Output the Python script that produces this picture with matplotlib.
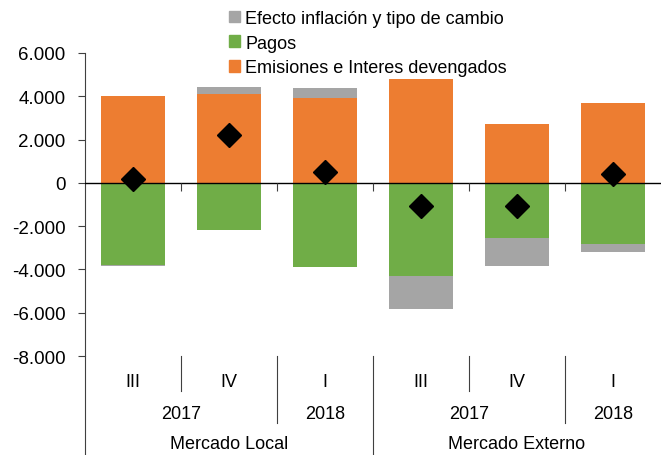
import matplotlib
matplotlib.use("Agg")
import matplotlib.pyplot as plt
import matplotlib.transforms as mtransforms
from matplotlib.ticker import FuncFormatter, MultipleLocator
from matplotlib.patches import Patch

plt.rcParams['font.family'] = ['Liberation Sans', 'DejaVu Sans']

# ---- data ----
quarters = ["III", "IV", "I", "III", "IV", "I"]
years = ["2017", "2018", "2017", "2018"]
year_spans = [2, 1, 2, 1]
markets = ["Mercado Local", "Mercado Externo"]
market_spans = [3, 3]
emisiones = [4000, 4100, 3900, 4800, 2740, 3690]
pagos = [-3780, -2170, -3890, -4290, -2540, -2830]
efecto = [-60, 330, 460, -1525, -1310, -370]
neto = [160, 2200, 520, -1050, -1090, 420]

series_names = ["Efecto inflación y tipo de cambio", "Pagos", "Emisiones e Interes devengados"]
c_gray, c_green, c_orange = "#A5A5A5", "#70AD47", "#ED7D31"

W, H = 665, 456
fig = plt.figure(figsize=(W / 100, H / 100), dpi=100)
ax_l, ax_r, ax_t, ax_b = 85, 661, 54, 357
ax = fig.add_axes([ax_l / W, (H - ax_b) / H, (ax_r - ax_l) / W, (ax_b - ax_t) / H])

n = len(quarters)
xs = [i + 0.5 for i in range(n)]
bw = 0.67

ax.bar(xs, emisiones, width=bw, color=c_orange, zorder=2)
ax.bar(xs, pagos, width=bw, color=c_green, zorder=2)
eff_bottom = [e if v > 0 else p for v, e, p in zip(efecto, emisiones, pagos)]
ax.bar(xs, efecto, bottom=eff_bottom, width=bw, color=c_gray, zorder=2)
ax.plot(xs, neto, linestyle="none", marker="D", markersize=12, color="black", zorder=4)

ax.set_xlim(0, n)
ax.set_ylim(-8000, 6000)
ax.yaxis.set_major_locator(MultipleLocator(2000))
ax.yaxis.set_major_formatter(FuncFormatter(lambda v, p: f"{v:,.0f}".replace(",", ".")))
ax.tick_params(axis="y", direction="out", length=5, width=0.8, colors="#404040",
               labelcolor="black", labelsize=13.5, pad=9)
ax.set_xticks([])
for s in ["top", "right", "bottom"]:
    ax.spines[s].set_visible(False)
ax.spines["left"].set_color("#404040")
ax.spines["left"].set_linewidth(0.8)

# zero line with category tick marks
ax.axhline(0, color="black", linewidth=1.0, zorder=3)
ax.plot(list(range(1, n)), [0] * (n - 1), linestyle="none", marker=3, markersize=6,
        markeredgewidth=0.8, color="#404040", zorder=3)

# multi-level category labels
trans = mtransforms.blended_transform_factory(ax.transData, ax.transAxes)
ax_h = ax_b - ax_t
def fy(py):
    return -(py - ax_b) / ax_h

row_y = [fy(383), fy(415), fy(445)]
sep_q, sep_y, sep_m = fy(392), fy(424), fy(H)
lc = "#404040"
fs = 13

for x, q in zip(xs, quarters):
    ax.text(x, row_y[0], q, transform=trans, ha="center", va="center", fontsize=fs)

pos = 0
for y, s in zip(years, year_spans):
    ax.text(pos + s / 2, row_y[1], y, transform=trans, ha="center", va="center", fontsize=fs)
    pos += s

pos = 0
for m, s in zip(markets, market_spans):
    ax.text(pos + s / 2, row_y[2], m, transform=trans, ha="center", va="center", fontsize=fs)
    pos += s

# separators
year_edges = set()
pos = 0
for s in year_spans:
    pos += s
    year_edges.add(pos)
market_edges = set()
pos = 0
for s in market_spans:
    pos += s
    market_edges.add(pos)
for b in range(0, n):
    if b == 0 or b in market_edges:
        y_end = sep_m
    elif b in year_edges:
        y_end = sep_y
    else:
        y_end = sep_q
    ax.plot([b, b], [0, y_end], transform=trans, color=lc, linewidth=0.8, clip_on=False)

handles = [Patch(color=c_gray), Patch(color=c_green), Patch(color=c_orange)]
fig.legend(handles, series_names, loc="upper left", bbox_to_anchor=(229 / W, 1 - 11 / H),
           frameon=False, fontsize=13, handlelength=0.6, handleheight=0.6,
           handletextpad=0.3, labelspacing=0.42, borderpad=0, borderaxespad=0)

fig.savefig("out.png", dpi=100)
